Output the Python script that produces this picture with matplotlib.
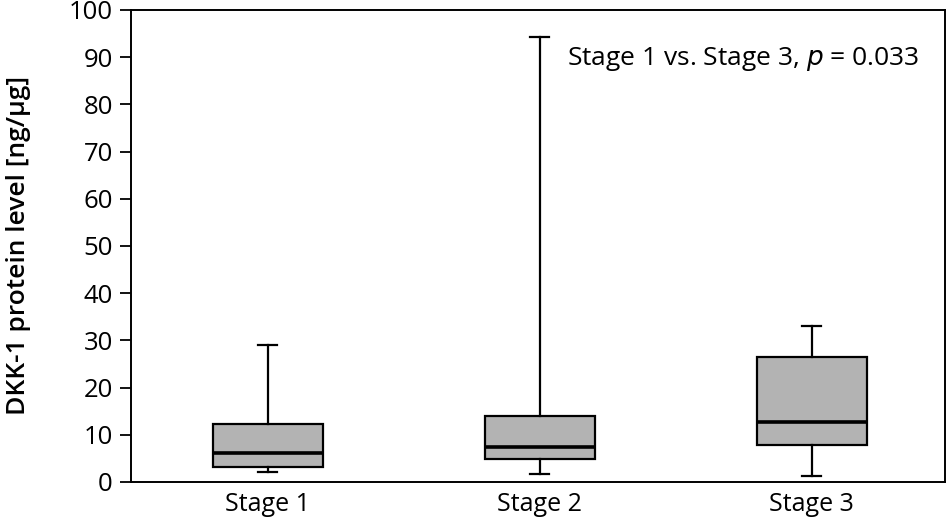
import matplotlib
matplotlib.use("Agg")
import matplotlib.pyplot as plt

# box stats (ng/ug)
stages = ["Stage 1", "Stage 2", "Stage 3"]
whislo = [2.2, 1.7, 1.3]
q1 = [3.2, 4.8, 7.8]
med = [6.2, 7.3, 12.8]
q3 = [12.2, 14.0, 26.4]
whishi = [29.0, 94.3, 33.0]

plt.rcParams['font.family'] = ['Open Sans', 'DejaVu Sans']

stats = []
for i in range(len(stages)):
	stats.append({'label': stages[i], 'whislo': whislo[i], 'q1': q1[i], 'med': med[i],
		'q3': q3[i], 'whishi': whishi[i], 'fliers': []})

fig = plt.figure(figsize=(9.48, 5.21), dpi=100)
ax = fig.add_axes([0.138, 0.075, 0.859, 0.906])

ax.bxp(stats, positions=[1, 2, 3], widths=0.405, patch_artist=True, showfliers=False,
	capwidths=0.07,
	boxprops=dict(facecolor='#b3b3b3', edgecolor='black', linewidth=1.6),
	medianprops=dict(color='black', linewidth=2.6),
	whiskerprops=dict(color='black', linewidth=1.6),
	capprops=dict(color='black', linewidth=1.6))

ax.set_xlim(0.496, 3.49)
ax.set_ylim(0, 100)
ax.set_yticks(range(0, 101, 10))
ax.tick_params(axis='y', direction='out', length=8, width=1.3, labelsize=18.5, pad=5)
ax.tick_params(axis='x', length=0, labelsize=18, pad=7)
for s in ax.spines.values():
	s.set_linewidth(1.4)

ax.set_ylabel('DKK-1 protein level [ng/µg]', fontsize=19, fontweight='semibold', labelpad=27)
ax.text(0.969, 0.895, 'Stage 1 vs. Stage 3, $\\it{p}$ = 0.033', transform=ax.transAxes,
	ha='right', va='center', fontsize=19)

fig.savefig('out.png', dpi=100)
